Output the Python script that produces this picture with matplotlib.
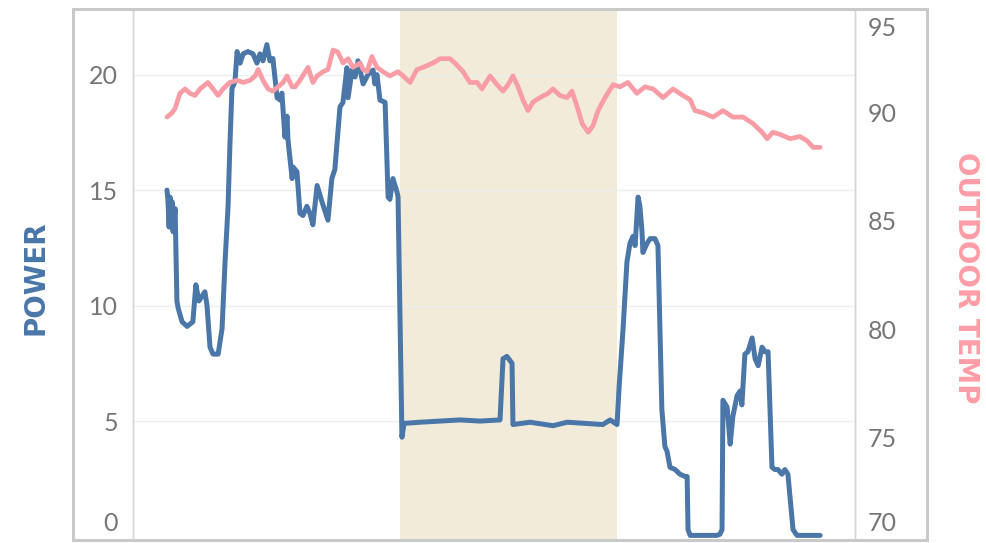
import matplotlib.pyplot as plt
from matplotlib.patches import Rectangle

# time of day in hours, power readings
power_hours = [1.13, 1.16, 1.20, 1.23, 1.27, 1.30, 1.33, 1.40, 1.46, 1.50, 1.63, 1.80, 1.99,
               2.09, 2.19, 2.29, 2.39, 2.46, 2.56, 2.66, 2.83, 2.96, 3.06, 3.16, 3.22, 3.29,
               3.39, 3.46, 3.56, 3.66, 3.82, 3.99, 4.12, 4.22, 4.32, 4.45, 4.55, 4.65, 4.79,
               4.89, 4.95, 5.05, 5.12, 5.15, 5.29, 5.32, 5.45, 5.55, 5.65, 5.78, 5.88, 5.98,
               6.12, 6.28, 6.48, 6.61, 6.71, 6.88, 6.98, 7.11, 7.15, 7.28, 7.38, 7.48, 7.65,
               7.81, 7.98, 8.04, 8.11, 8.21, 8.38, 8.48, 8.54, 8.64, 8.78, 8.81, 8.94, 9.01,
               9.54, 10.21, 10.87, 11.54, 12.20, 12.30, 12.43, 12.60, 12.63, 13.20, 13.96,
               14.43, 15.03, 15.62, 15.86, 16.09, 16.16, 16.29, 16.42, 16.52, 16.62, 16.69,
               16.79, 16.85, 16.92, 16.95, 17.09, 17.19, 17.35, 17.45, 17.58, 17.68, 17.75,
               17.85, 18.02, 18.18, 18.35, 18.42, 18.45, 18.52, 19.41, 19.51, 19.58, 19.61,
               19.75, 19.85, 19.94, 20.08, 20.18, 20.24, 20.34, 20.44, 20.58, 20.68, 20.78,
               20.91, 21.01, 21.11, 21.24, 21.34, 21.44, 21.57, 21.67, 21.77, 21.94, 22.07,
               22.84]
power = [15.0, 14.6, 13.4, 14.7, 13.6, 14.5, 13.2, 14.2, 10.2, 9.9, 9.3, 9.1, 9.3,
         10.9, 10.2, 10.4, 10.6, 10.0, 8.2, 7.9, 7.9, 9.0, 11.9, 14.3, 16.9, 19.4,
         19.7, 21.0, 20.5, 20.9, 21.0, 20.9, 20.5, 20.9, 20.6, 21.3, 20.6, 20.7, 19.0,
         18.9, 19.2, 17.3, 18.2, 17.2, 15.5, 16.0, 15.8, 14.0, 13.9, 14.3, 14.0, 13.5,
         15.2, 14.5, 13.7, 15.5, 15.9, 18.6, 18.8, 20.3, 19.0, 20.2, 19.9, 20.6, 19.6,
         20.0, 20.2, 19.6, 20.0, 18.9, 18.8, 14.7, 14.6, 15.5, 14.9, 14.7, 4.3, 4.9,
         4.95, 5.0, 5.05, 5.0, 5.05, 7.7, 7.8, 7.5, 4.85, 4.95, 4.8,
         4.95, 4.9, 4.85, 5.05, 4.85, 6.5, 9.0, 11.9, 12.7, 13.0, 12.6,
         14.7, 14.3, 13.2, 12.3, 12.7, 12.9, 12.9, 12.6, 5.5, 3.9, 3.7,
         3.0, 2.9, 2.7, 2.6, 2.6, 0.3, 0.05, 0.05, 0.1, 0.3, 5.9,
         5.6, 4.0, 5.2, 6.1, 6.3, 5.7, 7.9, 8.0, 8.6, 7.7, 7.4,
         8.2, 8.0, 8.0, 3.0, 2.9, 2.9, 2.7, 2.9, 2.7, 0.3, 0.05,
         0.05]

# time of day in hours, outdoor temperature readings
temp_hours = [1.13, 1.30, 1.40, 1.56, 1.73, 1.89, 2.06, 2.23, 2.49, 2.66, 2.83, 2.99, 3.22,
              3.46, 3.66, 3.89, 4.06, 4.16, 4.32, 4.49, 4.65, 4.82, 4.99, 5.12, 5.29, 5.39,
              5.55, 5.82, 5.98, 6.12, 6.32, 6.48, 6.65, 6.81, 6.98, 7.15, 7.31, 7.55, 7.65,
              7.78, 7.94, 8.11, 8.31, 8.54, 8.81, 8.98, 9.21, 9.44, 9.64, 9.97, 10.21, 10.54,
              10.70, 10.97, 11.20, 11.44, 11.60, 11.87, 12.10, 12.30, 12.47, 12.63, 12.80,
              12.96, 13.13, 13.30, 13.53, 13.80, 13.96, 14.19, 14.43, 14.59, 14.76, 14.93,
              15.13, 15.29, 15.46, 15.69, 15.96, 16.19, 16.45, 16.75, 17.02, 17.29, 17.62,
              17.95, 18.28, 18.52, 18.68, 18.95, 19.28, 19.61, 19.94, 20.28, 20.61, 20.91,
              21.08, 21.27, 21.51, 21.84, 22.17, 22.41, 22.61, 22.84]
temp = [89.8, 90.0, 90.2, 90.9, 91.1, 90.9, 90.8, 91.1, 91.4, 91.1, 90.8, 91.1, 91.4,
        91.5, 91.4, 91.5, 91.7, 92.0, 91.5, 91.1, 91.0, 91.2, 91.4, 91.7, 91.2, 91.2,
        91.5, 92.1, 91.4, 91.7, 91.9, 92.0, 92.9, 92.8, 92.3, 92.5, 92.1, 92.3, 92.0,
        91.9, 92.6, 92.1, 91.9, 91.7, 91.9, 91.7, 91.4, 92.0, 92.1, 92.3, 92.5, 92.5,
        92.3, 91.9, 91.4, 91.4, 91.1, 91.7, 91.3, 91.0, 91.3, 91.7, 91.2,
        90.6, 90.1, 90.5, 90.7, 90.9, 91.1, 90.8, 90.7, 91.0, 90.3, 89.5,
        89.1, 89.4, 90.1, 90.7, 91.3, 91.2, 91.4, 90.9, 91.2, 91.1, 90.7,
        91.1, 90.8, 90.6, 90.1, 90.0, 89.8, 90.1, 89.8, 89.8, 89.5, 89.1,
        88.8, 89.1, 89.0, 88.8, 88.9, 88.7, 88.4, 88.4]

band_start, band_end = 8.88, 16.09
power_ticks = [5, 10, 15, 20]
temp_ticks = [75, 80, 85, 90]

BLUE = "#4a76a8"
PINK = "#f89ca6"
TICK = "#767676"

plt.rcParams['font.family'] = ['Lato', 'DejaVu Sans']

fig = plt.figure(figsize=(9.86, 5.43), dpi=100)
ax = fig.add_axes([133 / 986, 3 / 543, 722 / 986, 530 / 543])
ax2 = ax.twinx()

# shaded period
ax.axvspan(band_start, band_end, color="#f2ebda", lw=0, zorder=0)
for t in power_ticks:
    ax.axhline(t, color="#eeeeee", lw=1, zorder=1)

ax.plot(power_hours, power, color=BLUE, lw=3.6, solid_joinstyle="round",
        solid_capstyle="round", zorder=3)
ax2.plot(temp_hours, temp, color=PINK, lw=3.4, solid_joinstyle="round",
         solid_capstyle="round", zorder=3)

ax.set_xlim(0, 24)
ax.set_ylim(-0.15, 22.8)
ax2.set_ylim(70.25, 94.75)
ax.set_xticks([])

ax.set_yticks(power_ticks)
ax2.set_yticks(temp_ticks)
ax.tick_params(axis="y", length=0, labelsize=18, labelcolor=TICK, pad=11)
ax2.tick_params(axis="y", length=0, labelsize=18, labelcolor=TICK, pad=9)

# edge labels are pushed inside the frame
ax.annotate("0", xy=(0, 0), xycoords="axes fraction", xytext=(-11, 12),
            textcoords="offset points", ha="right", va="center",
            fontsize=18, color=TICK)
ax2.annotate("70", xy=(1, 0), xycoords="axes fraction", xytext=(9, 12),
             textcoords="offset points", ha="left", va="center",
             fontsize=18, color=TICK)
ax2.annotate("95", xy=(1, 1), xycoords="axes fraction", xytext=(9, -13),
             textcoords="offset points", ha="left", va="center",
             fontsize=18, color=TICK)

for a in (ax, ax2):
    for side in ("top", "bottom"):
        a.spines[side].set_visible(False)
    for side in ("left", "right"):
        a.spines[side].set_color("#d6d6d6")
        a.spines[side].set_linewidth(1)

# outer frame
fig.patches.append(Rectangle((73 / 986, 3 / 543), 854 / 986, 531 / 543,
                             transform=fig.transFigure, fill=False,
                             edgecolor="#c9c9c9", lw=2.2, zorder=10))

fig.text(35 / 986, 1 - 278 / 543, "POWER", rotation=90, ha="center", va="center",
         fontsize=20, fontweight="bold", color=BLUE, family=["DejaVu Sans"])
fig.text(966 / 986, 1 - 278 / 543, "OUTDOOR TEMP", rotation=270, ha="center",
         va="center", fontsize=20, fontweight="bold", color="#ff9da7",
         family=["DejaVu Sans"])

fig.savefig("out.png", dpi=100)
